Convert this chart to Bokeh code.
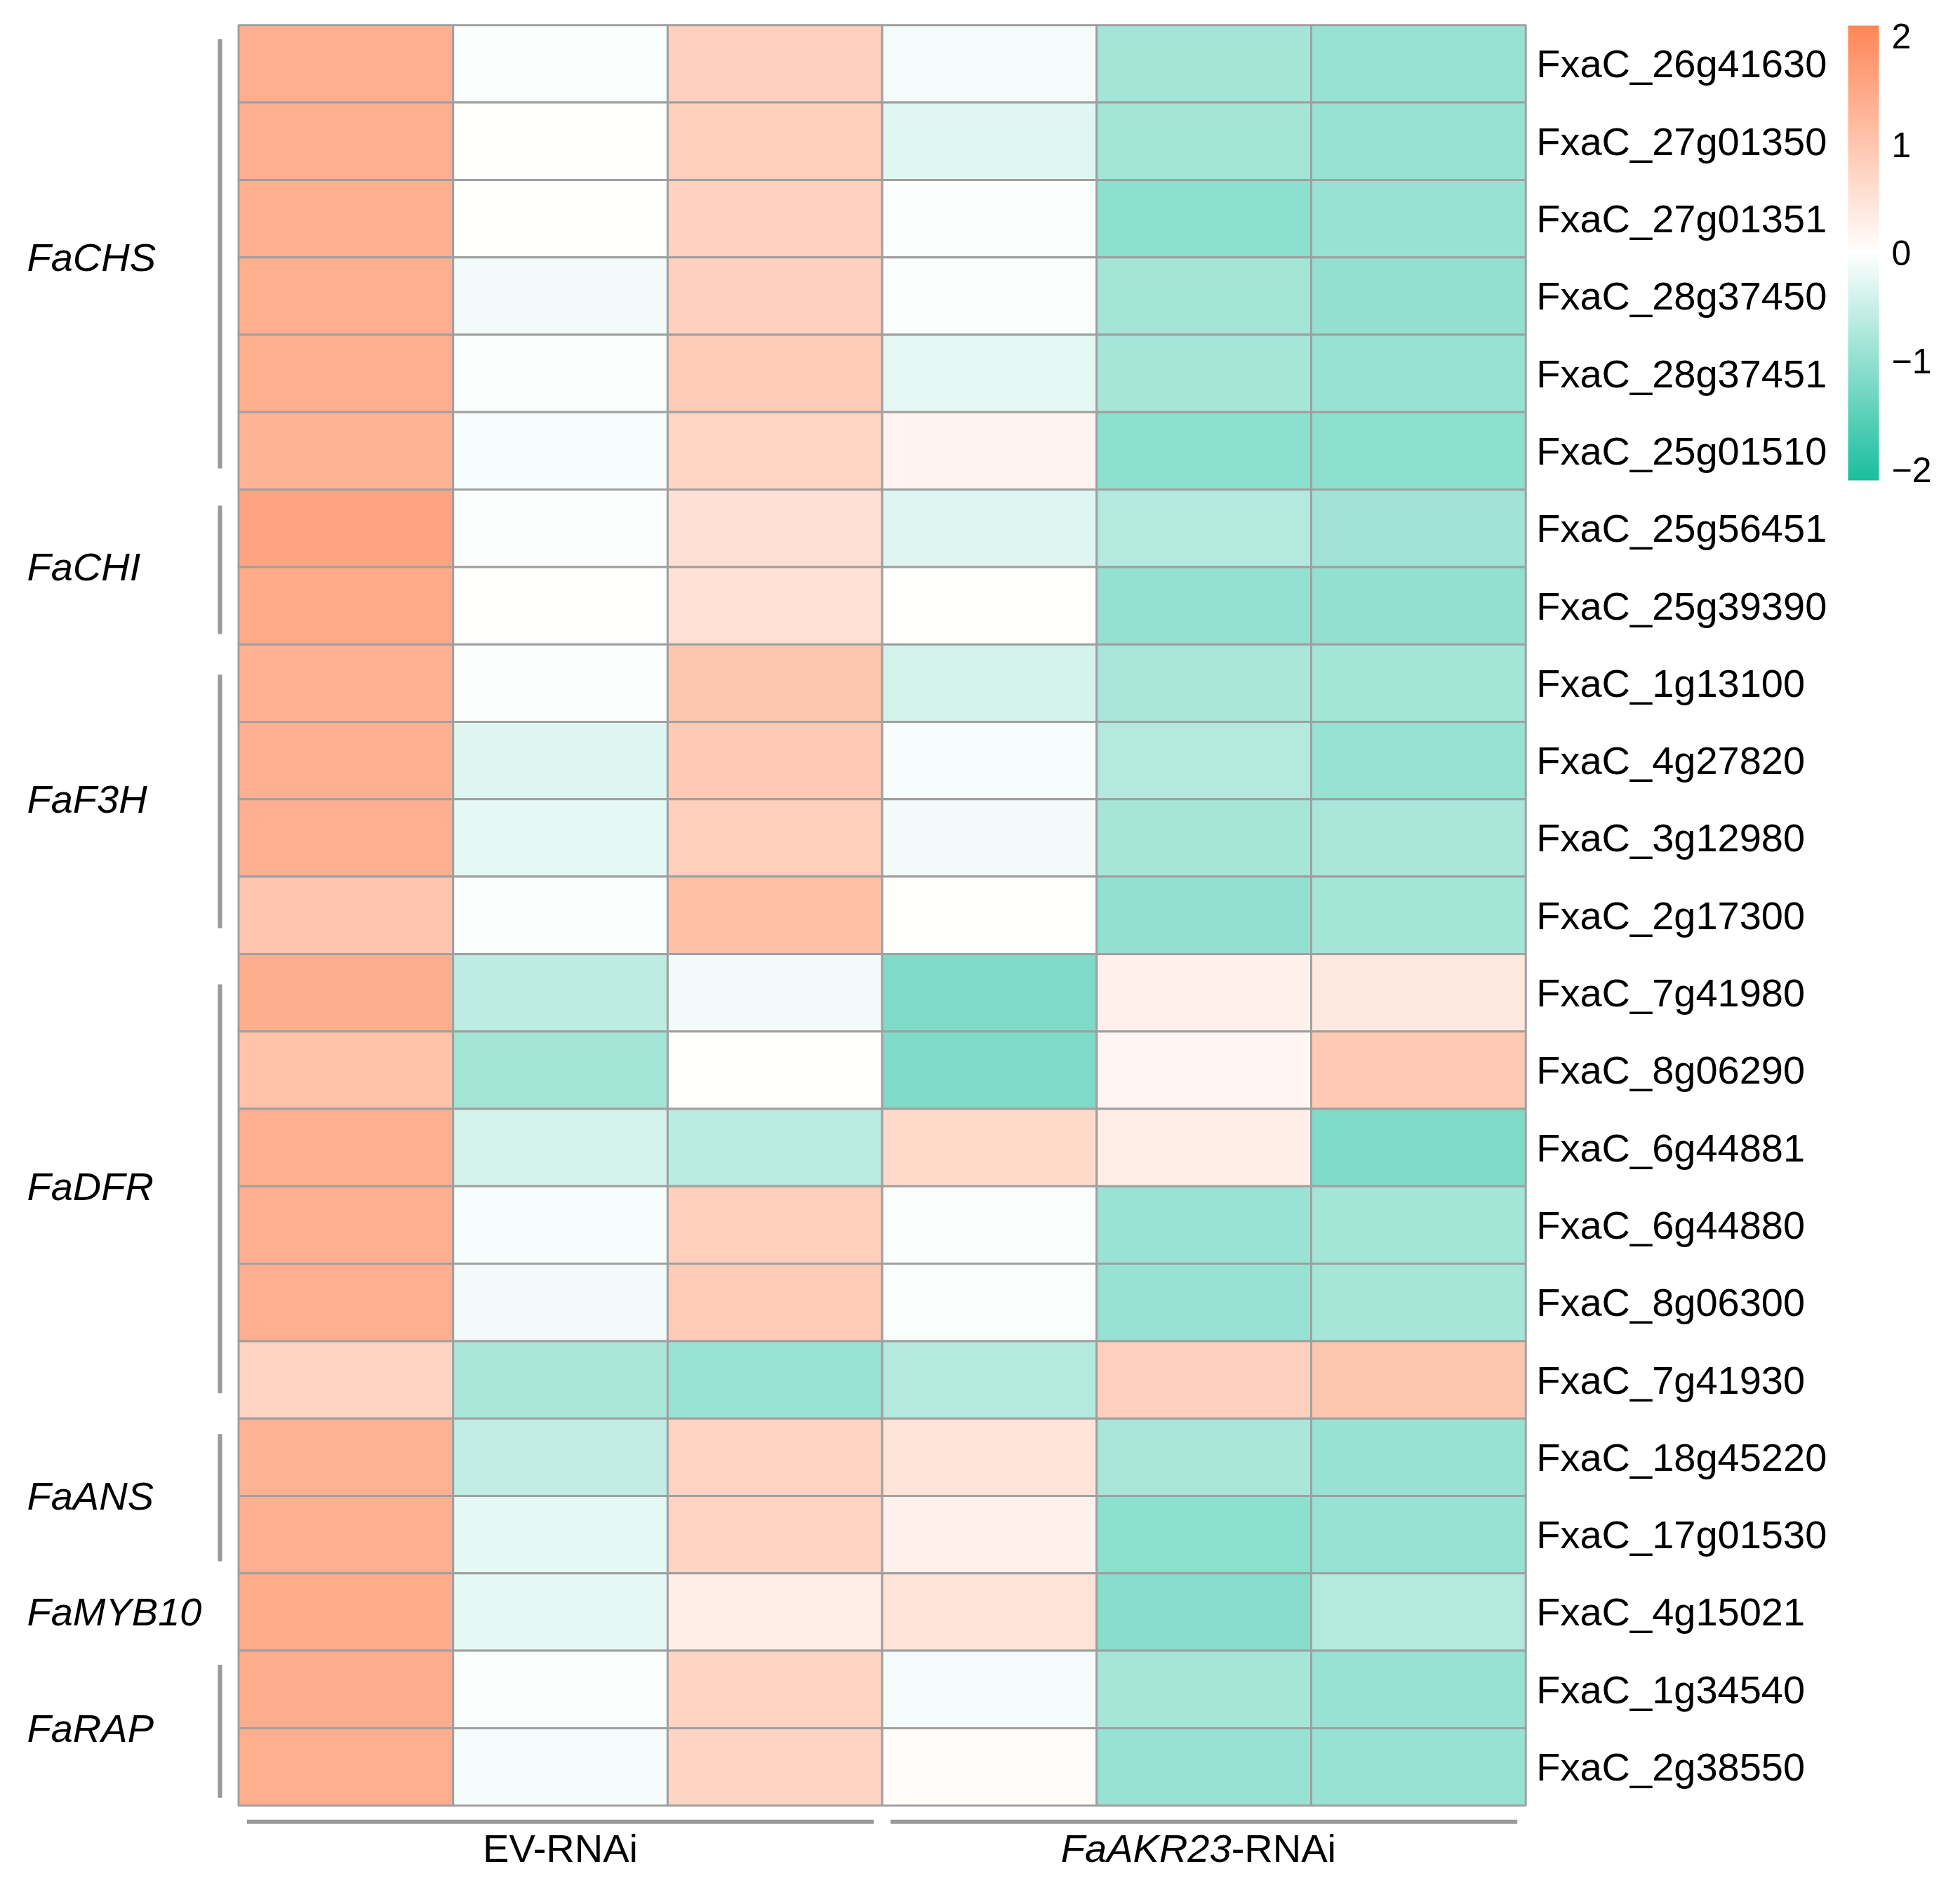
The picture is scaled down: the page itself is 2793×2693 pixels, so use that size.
from bokeh.plotting import figure
from bokeh.models import Range1d, ColumnDataSource, LinearColorMapper, ColorBar, FixedTicker
from bokeh.core.properties import value
from bokeh.embed import file_html
from bokeh.resources import INLINE

# ---------------- data ----------------
genes = ["FxaC_26g41630", "FxaC_27g01350", "FxaC_27g01351", "FxaC_28g37450",
         "FxaC_28g37451", "FxaC_25g01510", "FxaC_25g56451", "FxaC_25g39390",
         "FxaC_1g13100", "FxaC_4g27820", "FxaC_3g12980", "FxaC_2g17300",
         "FxaC_7g41980", "FxaC_8g06290", "FxaC_6g44881", "FxaC_6g44880",
         "FxaC_8g06300", "FxaC_7g41930", "FxaC_18g45220", "FxaC_17g01530",
         "FxaC_4g15021", "FxaC_1g34540", "FxaC_2g38550"]
samples = ["EV-1", "EV-2", "EV-3", "AKR-1", "AKR-2", "AKR-3"]
ev_1 = [1.39, 1.39, 1.39, 1.41, 1.41, 1.33, 1.58, 1.47, 1.36, 1.39, 1.39, 1.01,
        1.42, 1.05, 1.39, 1.39, 1.39, 0.77, 1.33, 1.39, 1.45, 1.43, 1.41]
ev_2 = [-0.05, 0.00, 0.00, -0.13, -0.05, -0.08, -0.04, 0.00, -0.04, -0.30, -0.23, -0.05,
        -0.60, -0.85, -0.38, -0.08, -0.13, -0.80, -0.56, -0.24, -0.24, -0.05, -0.09]
ev_3 = [0.82, 0.85, 0.80, 0.82, 0.91, 0.73, 0.55, 0.52, 0.99, 0.94, 0.85, 1.12,
        -0.13, 0.00, -0.65, 0.85, 0.91, -0.92, 0.77, 0.77, 0.30, 0.75, 0.75]
akr_1 = [-0.10, -0.28, -0.05, -0.05, -0.24, 0.21, -0.30, 0.00, -0.38, -0.08, -0.12, 0.00,
         -1.17, -1.17, 0.64, -0.05, -0.05, -0.70, 0.47, 0.25, 0.48, -0.10, 0.05]
akr_2 = [-0.83, -0.85, -1.04, -0.85, -0.82, -1.04, -0.70, -0.97, -0.80, -0.70, -0.82, -1.00,
         0.25, 0.16, 0.30, -0.92, -0.95, 0.82, -0.80, -1.04, -1.09, -0.82, -0.95]
akr_3 = [-0.95, -0.95, -0.95, -0.99, -0.95, -1.04, -0.86, -0.99, -0.85, -0.95, -0.80, -0.85,
         0.41, 0.94, -1.16, -0.85, -0.82, 0.99, -0.95, -0.95, -0.70, -0.95, -0.95]
groups = ["FaCHS", "FaCHI", "FaF3H", "FaDFR", "FaANS", "FaMYB10", "FaRAP"]
group_sizes = [6, 2, 4, 6, 2, 1, 2]
conditions = ["EV-RNAi", "FaAKR23-RNAi"]
condition_sizes = [3, 3]
cbar_ticks = [-2, -1, 0, 1, 2]
cbar_tick_labels = ["\u22122", "\u22121", "0", "1", "2"]
scale_low, scale_high = -2.1, 2.1

# ---------------- layout constants (pixels) ----------------
W, H = 2793, 2693
COL_PX = 305.7
ROW_PX = 110.3
HEAT_LEFT_PX = 339.5
HEAT_TOP_PX = 35.3
FONT = "Liberation Sans"
FS = "56px"
GRID = "#A0A0A0"
BRACKET_COLOR = "#9A9A9A"
# bracket inset (top, bottom) in px for each group
bracket_insets = [(20, 30), (23, 15), (43, 37), (43, 36), (22, 17), (0, 0), (20, 11)]

n_rows = len(genes)
n_cols = len(samples)

x0 = -HEAT_LEFT_PX / COL_PX
x1 = x0 + W / COL_PX
ytop = -HEAT_TOP_PX / ROW_PX
ybot = ytop + H / ROW_PX


def lerp_hex(c0, c1, t):
    r = round(c0[0] + (c1[0] - c0[0]) * t)
    g = round(c0[1] + (c1[1] - c0[1]) * t)
    b = round(c0[2] + (c1[2] - c0[2]) * t)
    return "#%02x%02x%02x" % (r, g, b)


low_c = (27, 190, 157)
mid_c = (255, 255, 255)
high_c = (255, 135, 87)
N = 256
palette = []
for i in range(N):
    t = i / (N - 1)
    if t < 0.5:
        palette.append(lerp_hex(low_c, mid_c, t / 0.5))
    else:
        palette.append(lerp_hex(mid_c, high_c, (t - 0.5) / 0.5))

mapper = LinearColorMapper(palette=palette, low=scale_low, high=scale_high)

p = figure(width=W, height=H, x_range=Range1d(x0, x1), y_range=Range1d(ybot, ytop),
           output_backend="svg", toolbar_location=None, min_border=0,
           x_axis_type=None, y_axis_type=None, outline_line_color=None,
           background_fill_color="white", border_fill_color="white")
p.grid.visible = False

# cells
columns = [ev_1, ev_2, ev_3, akr_1, akr_2, akr_3]
xs, ys, vs = [], [], []
for j, col in enumerate(columns):
    for i, v in enumerate(col):
        xs.append(j + 0.5)
        ys.append(i + 0.5)
        vs.append(v)
src = ColumnDataSource(dict(x=xs, y=ys, v=vs))
p.rect(x="x", y="y", width=1, height=1, source=src,
       fill_color={"field": "v", "transform": mapper},
       line_color=GRID, line_width=3)

# row labels
p.text(x=[n_cols + 15 / COL_PX] * n_rows, y=[i + 0.5 for i in range(n_rows)], text=genes,
       text_align="left", text_baseline="middle", text_font=value(FONT),
       text_font_size=FS, text_color="black")

# group brackets and labels
starts = []
s = 0
for g in group_sizes:
    starts.append(s)
    s += g
bx = -26.5 / COL_PX
seg_x, seg_y0, seg_y1 = [], [], []
for st, sz, (it, ib) in zip(starts, group_sizes, bracket_insets):
    if sz > 1:
        seg_x.append(bx)
        seg_y0.append(st + it / ROW_PX)
        seg_y1.append(st + sz - ib / ROW_PX)
p.segment(x0=seg_x, y0=seg_y0, x1=seg_x, y1=seg_y1, line_color=BRACKET_COLOR, line_width=6)
p.text(x=[x0 + 38 / COL_PX] * len(groups), y=[st + sz / 2 for st, sz in zip(starts, group_sizes)],
       text=groups, text_align="left", text_baseline="middle", text_font=value(FONT),
       text_font_size=FS, text_font_style="italic", text_color="black")

# condition lines and labels
cstarts = [0, condition_sizes[0]]
hin = 12 / COL_PX
ly = n_rows + 23 / ROW_PX
p.segment(x0=[c + hin for c in cstarts], y0=[ly, ly],
          x1=[c + sz - hin for c, sz in zip(cstarts, condition_sizes)], y1=[ly, ly],
          line_color=BRACKET_COLOR, line_width=6)
label_y = n_rows + 61 / ROW_PX
centers = [c + sz / 2 for c, sz in zip(cstarts, condition_sizes)]
p.text(x=[centers[0]], y=[label_y], text=[conditions[0]], text_align="center",
       text_baseline="middle", text_font=value(FONT), text_font_size=FS, text_color="black")
ital, rest = conditions[1].split("-", 1)
anchor = centers[1] + 39 / COL_PX
p.text(x=[anchor], y=[label_y], text=[ital], text_align="right", text_baseline="middle",
       text_font=value(FONT), text_font_size=FS, text_font_style="italic", text_color="black")
p.text(x=[anchor], y=[label_y], text=["-" + rest], text_align="left", text_baseline="middle",
       text_font=value(FONT), text_font_size=FS, text_color="black")

# colour bar
cb = ColorBar(color_mapper=mapper, ticker=FixedTicker(ticks=cbar_ticks),
              major_label_overrides={t: l for t, l in zip(cbar_ticks, cbar_tick_labels)},
              width=44, height=648, location=(2633, H - 684), padding=0, margin=0,
              label_standoff=18, major_tick_line_color=None, minor_tick_line_color=None,
              bar_line_color=None, border_line_color=None, background_fill_alpha=0,
              major_label_text_font=FONT, major_label_text_font_size="50px",
              major_label_text_color="black")
p.add_layout(cb)

open("out.html", "w").write(file_html(p, INLINE))
